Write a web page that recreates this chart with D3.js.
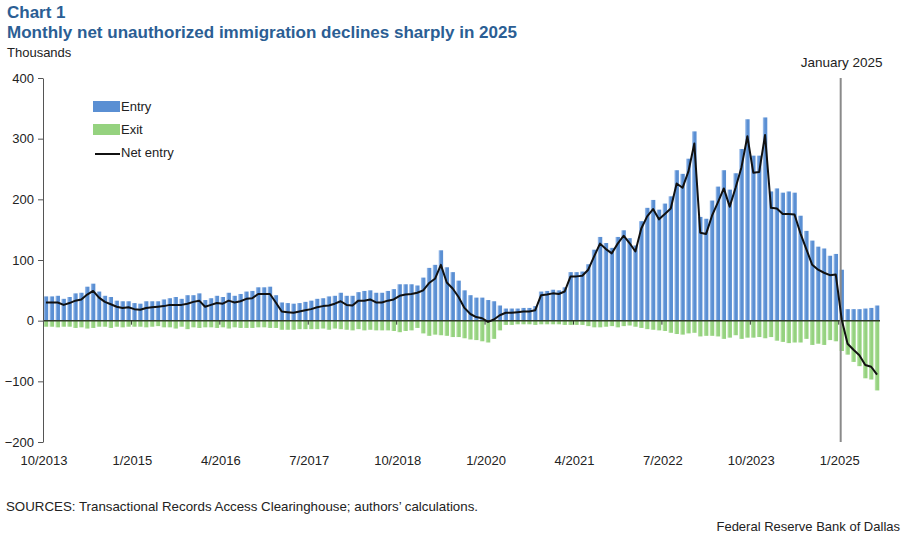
<!DOCTYPE html>
<html>
<head>
<meta charset="utf-8">
<script src="https://cdn.jsdelivr.net/npm/d3@7"></script>
<style>
  body { margin: 0; background: #fff; }
  svg { font-family: "Liberation Sans", Arial, sans-serif; }
</style>
</head>
<body>
<div id="chart"></div>
<script>
// monthly values, thousands, 10/2013 .. 7/2025
var entry = [
  40, 40, 41, 36, 39, 45, 46, 56, 61, 48,
  41, 39, 33, 32, 32, 29, 28, 32, 32, 32,
  35, 37, 39, 36, 42, 42, 45, 34, 37, 41,
  39, 46, 41, 44, 48, 49, 55, 55, 56, 42,
  30, 29, 28, 29, 31, 33, 36, 37, 40, 41,
  46, 41, 41, 47, 49, 50, 46, 46, 49, 52,
  60, 60, 60, 58, 71, 87, 92, 116, 88, 80,
  66, 50, 42, 38, 38, 34, 32, 25, 20, 20,
  20, 21, 21, 24, 48, 49, 51, 50, 55, 80,
  80, 81, 93, 117, 138, 128, 120, 138, 149, 136,
  124, 164, 186, 199, 183, 193, 205, 248, 242, 267,
  312, 171, 168, 198, 221, 248, 216, 243, 283, 332,
  272, 272, 335, 213, 218, 211, 213, 211, 173, 148,
  132, 122, 119, 107, 110, 84, 19, 19, 19, 20,
  21, 25
];
var exit = [
  -10, -10, -11, -10, -10, -12, -11, -13, -12, -10,
  -10, -12, -10, -11, -10, -10, -10, -11, -10, -9,
  -11, -11, -13, -10, -14, -11, -12, -11, -11, -12,
  -11, -13, -11, -12, -12, -12, -11, -11, -12, -12,
  -15, -15, -15, -14, -14, -14, -14, -13, -15, -13,
  -14, -15, -16, -14, -16, -15, -16, -16, -16, -17,
  -19, -17, -16, -12, -21, -25, -23, -24, -25, -27,
  -27, -29, -31, -32, -34, -36, -30, -16, -7, -7,
  -6, -6, -6, -7, -6, -6, -6, -6, -7, -7,
  -7, -7, -9, -11, -11, -10, -9, -11, -9, -8,
  -10, -12, -14, -15, -16, -17, -20, -22, -23, -21,
  -20, -26, -25, -25, -26, -30, -28, -24, -30, -28,
  -28, -27, -29, -27, -33, -35, -37, -36, -36, -30,
  -40, -38, -40, -32, -34, -50, -56, -68, -75, -95,
  -97, -115
];
var netEntry = [
  30, 30, 30, 26, 29, 33, 35, 43, 49, 38,
  31, 27, 23, 21, 22, 19, 18, 21, 22, 23,
  24, 26, 26, 26, 28, 31, 33, 23, 26, 29,
  28, 33, 30, 32, 36, 37, 44, 44, 44, 30,
  15, 14, 13, 15, 17, 19, 22, 24, 25, 28,
  32, 26, 25, 33, 33, 35, 30, 30, 33, 35,
  41, 43, 44, 46, 50, 62, 69, 92, 63, 53,
  39, 21, 11, 6, 4, -2, 2, 9, 13, 13,
  14, 15, 15, 17, 42, 43, 45, 44, 48, 73,
  73, 74, 84, 106, 127, 118, 111, 127, 140, 128,
  114, 152, 172, 184, 167, 176, 185, 226, 219, 246,
  292, 145, 143, 173, 195, 218, 188, 219, 253, 304,
  244, 245, 306, 186, 185, 176, 176, 175, 144, 118,
  92, 84, 79, 75, 76, 2, -38, -48, -57, -73,
  -76, -89
];
var tickLabels = ["10/2013", "1/2015", "4/2016", "7/2017", "10/2018", "1/2020", "4/2021", "7/2022", "10/2023", "1/2025"];
var yTicks = [-200, -100, 0, 100, 200, 300, 400];
var seriesNames = ["Entry", "Exit", "Net entry"];

var fmtMonth = d3.timeFormat("%-m/%Y");
var months = d3.timeMonth.range(new Date(2013, 9, 1), new Date(2025, 7, 1)).map(fmtMonth);

var data = months.map(function (m, i) {
  return { month: m, entry: entry[i], exit: exit[i], net: netEntry[i] };
});

var W = 906, H = 535;
var plot = { left: 43, right: 880, top: 78, bottom: 442 };

var svg = d3.select("#chart").append("svg")
  .attr("width", W)
  .attr("height", H);

// bar gradients (lighter on the left like the original)
var defs = svg.append("defs");
function grad(id, light, dark) {
  var g = defs.append("linearGradient").attr("id", id)
    .attr("x1", 0).attr("x2", 1).attr("y1", 0).attr("y2", 0);
  g.append("stop").attr("offset", "0%").attr("stop-color", light);
  g.append("stop").attr("offset", "45%").attr("stop-color", dark);
  g.append("stop").attr("offset", "100%").attr("stop-color", dark);
}
grad("gEntry", "#a9c6ee", "#5a8fd3");
grad("gExit", "#c2e8b3", "#95d27f");

var x = d3.scaleBand()
  .domain(months)
  .range([plot.left, plot.right])
  .paddingInner(0.24)
  .paddingOuter(0.12);

var y = d3.scaleLinear()
  .domain([-200, 400])
  .range([plot.bottom, plot.top]);

var step = x.step();
function edge(m) { return x(m) - (step - x.bandwidth()) / 2; }
function mid(m) { return x(m) + x.bandwidth() / 2; }

// titles
svg.append("text").attr("x", 7).attr("y", 18)
  .style("font-size", "17px").style("font-weight", "bold").attr("fill", "#2b5e94")
  .text("Chart 1");
svg.append("text").attr("x", 7).attr("y", 38)
  .style("font-size", "16.5px").style("font-weight", "bold").attr("fill", "#2b5e94")
  .attr("textLength", 510).attr("lengthAdjust", "spacingAndGlyphs")
  .text("Monthly net unauthorized immigration declines sharply in 2025");
svg.append("text").attr("x", 7).attr("y", 57)
  .style("font-size", "13px").attr("fill", "#222")
  .text("Thousands");

// bars
svg.append("g").selectAll("rect.entry")
  .data(data).enter().append("rect")
  .attr("class", "entry")
  .attr("x", function (d) { return x(d.month); })
  .attr("y", function (d) { return y(d.entry); })
  .attr("width", x.bandwidth())
  .attr("height", function (d) { return y(0) - y(d.entry); })
  .attr("fill", "url(#gEntry)");

svg.append("g").selectAll("rect.exit")
  .data(data).enter().append("rect")
  .attr("class", "exit")
  .attr("x", function (d) { return x(d.month); })
  .attr("y", y(0))
  .attr("width", x.bandwidth())
  .attr("height", function (d) { return y(d.exit) - y(0); })
  .attr("fill", "url(#gExit)");

// zero line + category ticks
svg.append("line")
  .attr("x1", plot.left).attr("x2", plot.right)
  .attr("y1", y(0)).attr("y2", y(0))
  .attr("stroke", "#2f3a2a").attr("stroke-width", 1.5);

svg.append("g").selectAll("line")
  .data(tickLabels.slice(1)).enter().append("line")
  .attr("x1", function (d) { return edge(d); })
  .attr("x2", function (d) { return edge(d); })
  .attr("y1", y(0)).attr("y2", y(0) + 4)
  .attr("stroke", "#2f3a2a").attr("stroke-width", 1);

// x labels at the bottom
svg.append("g").selectAll("text")
  .data(tickLabels).enter().append("text")
  .attr("x", function (d) { return edge(d) + 1; })
  .attr("y", 465)
  .attr("text-anchor", "middle")
  .style("font-size", "13px").attr("fill", "#222")
  .text(function (d) { return d; });

// y axis
var yAxis = svg.append("g")
  .attr("transform", "translate(" + plot.left + ",0)")
  .call(d3.axisLeft(y).tickValues(yTicks).tickSize(5).tickSizeOuter(0));
yAxis.select(".domain").attr("stroke", "#555");
yAxis.selectAll(".tick line").attr("stroke", "#555");
yAxis.selectAll(".tick text")
  .attr("x", -9)
  .style("font-size", "13px")
  .style("font-family", "'Liberation Sans', Arial, sans-serif")
  .attr("fill", "#222");

// January 2025 marker
var jan = mid("1/2025") - 1;
svg.append("line")
  .attr("x1", jan).attr("x2", jan)
  .attr("y1", y(400)).attr("y2", y(-200))
  .attr("stroke", "#8a8a8a").attr("stroke-width", 2);
svg.append("text").attr("x", jan + 1).attr("y", 67)
  .attr("text-anchor", "middle")
  .style("font-size", "13.5px").attr("fill", "#222")
  .text("January  2025");

// net entry line
var line = d3.line()
  .x(function (d) { return mid(d.month); })
  .y(function (d) { return y(d.net); });
svg.append("path")
  .datum(data)
  .attr("d", line)
  .attr("fill", "none")
  .attr("stroke", "#111")
  .attr("stroke-width", 2)
  .attr("stroke-linejoin", "round");

// legend
var legend = svg.append("g").attr("transform", "translate(93,0)");
legend.append("rect").attr("x", 0).attr("y", 101).attr("width", 27).attr("height", 11).attr("fill", "#5a8fd3");
legend.append("rect").attr("x", 0).attr("y", 124).attr("width", 27).attr("height", 11).attr("fill", "#95d27f");
legend.append("line").attr("x1", 2).attr("x2", 27).attr("y1", 154).attr("y2", 154)
  .attr("stroke", "#111").attr("stroke-width", 2);
legend.selectAll("text")
  .data(seriesNames).enter().append("text")
  .attr("x", 28)
  .attr("y", function (d, i) { return 111 + i * 23; })
  .style("font-size", "13px").attr("fill", "#222")
  .text(function (d) { return d; });

// footer
svg.append("text").attr("x", 6).attr("y", 511)
  .style("font-size", "13px").attr("fill", "#222")
  .attr("textLength", 472).attr("lengthAdjust", "spacingAndGlyphs")
  .text("SOURCES: Transactional Records Access Clearinghouse; authors\u2019 calculations.");
svg.append("text").attr("x", 900).attr("y", 531)
  .attr("text-anchor", "end")
  .style("font-size", "13px").attr("fill", "#222")
  .text("Federal Reserve Bank of Dallas");
</script>
</body>
</html>
